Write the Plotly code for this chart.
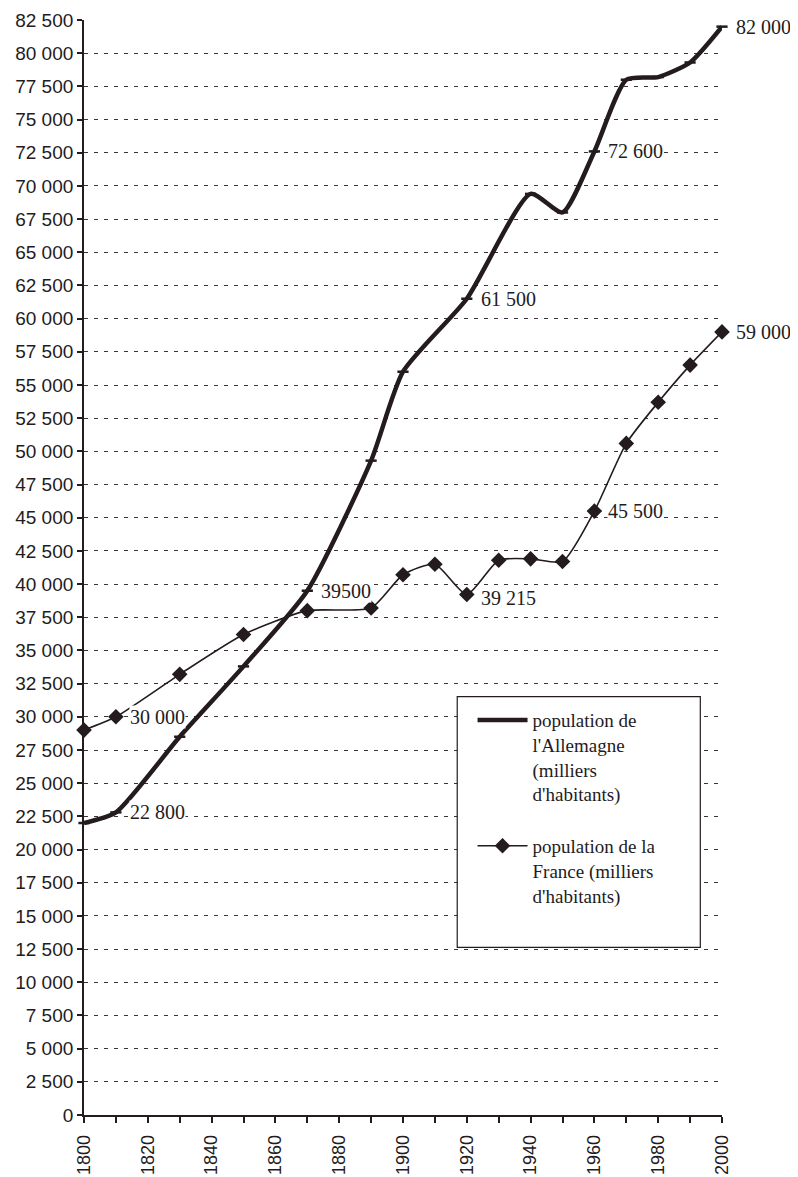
import plotly.graph_objects as go

# ---------------- data ----------------
de_years = [1800, 1810, 1830, 1850, 1870, 1890, 1900, 1920, 1940, 1950, 1960, 1970, 1980, 1990, 2000]
de_pop = [22000, 22800, 28500, 33800, 39500, 49300, 56000, 61500, 69400, 68000, 72600, 78000, 78200, 79300, 82000]

fr_years = [1800, 1810, 1830, 1850, 1870, 1890, 1900, 1910, 1920, 1930, 1940, 1950, 1960, 1970, 1980, 1990, 2000]
fr_pop = [29000, 30000, 33200, 36200, 38000, 38200, 40700, 41500, 39215, 41800, 41900, 41700, 45500, 50600, 53700, 56500, 59000]

de_label_years = [1810, 1870, 1920, 1960, 2000]
de_label_texts = ["22 800", "39500", "61 500", "72 600", "82 000"]
fr_label_years = [1810, 1920, 1960, 2000]
fr_label_texts = ["30 000", "39 215", "45 500", "59 000"]

y_tick_values = list(range(0, 82501, 2500))
y_tick_labels = [f"{v:,}".replace(",", " ") for v in y_tick_values]
x_tick_values = list(range(1800, 2001, 20))
x_tick_labels = [str(v) for v in x_tick_values]

de_name = "population de<br>l'Allemagne<br>(milliers<br>d'habitants)"
fr_name = "population de la<br>France (milliers<br>d'habitants)"

INK = "#231b1d"
SERIF = "Liberation Serif, DejaVu Serif, serif"
SANS = "Liberation Sans, Arial, sans-serif"

fig = go.Figure()

fig.add_trace(go.Scatter(
    x=fr_years, y=fr_pop, name=fr_name, mode="lines+markers",
    line=dict(color=INK, width=1.6, shape="spline", smoothing=0.6),
    marker=dict(symbol="diamond", size=12, color=INK),
    cliponaxis=False, legendgroup="fr", legendrank=2,
))
fig.add_trace(go.Scatter(
    x=de_years, y=de_pop, name=de_name, mode="lines",
    line=dict(color=INK, width=4.5, shape="spline", smoothing=0.6),
    cliponaxis=False, legendgroup="de", legendrank=1,
))
fig.add_trace(go.Scatter(
    x=de_years, y=de_pop, mode="markers", showlegend=False,
    marker=dict(symbol="line-ew", size=8, line=dict(color=INK, width=2.5)),
    cliponaxis=False, hoverinfo="skip",
))

annotations = []
for yr, txt in zip(de_label_years, de_label_texts):
    val = de_pop[de_years.index(yr)]
    annotations.append(dict(x=yr, y=val, xref="x", yref="y", text=txt, showarrow=False,
                            xanchor="left", yanchor="middle", xshift=13, yshift=0,
                            font=dict(family=SERIF, size=20, color=INK),
                            bgcolor="white", borderpad=0))
for yr, txt in zip(fr_label_years, fr_label_texts):
    val = fr_pop[fr_years.index(yr)]
    annotations.append(dict(x=yr, y=val, xref="x", yref="y", text=txt, showarrow=False,
                            xanchor="left", yanchor="middle", xshift=13,
                            yshift=-3 if txt == "39 215" else 0,
                            font=dict(family=SERIF, size=20, color=INK),
                            bgcolor="white", borderpad=0))

# the page body adds an 8px offset; the figure is sized to compensate
fig.update_layout(
    width=790, height=1169,
    margin=dict(l=76, r=76, t=12, b=62, autoexpand=False),
    paper_bgcolor="white", plot_bgcolor="white",
    showlegend=True,
    legend=dict(
        x=0.609, y=0.378, xanchor="left", yanchor="top",
        bgcolor="rgba(0,0,0,0)", borderwidth=0,
        font=dict(family=SERIF, size=19, color=INK),
        traceorder="grouped", tracegroupgap=24, valign="top",
        itemwidth=50,
    ),
    shapes=[dict(type="rect", xref="paper", yref="paper",
                 x0=0.585, x1=0.966, y0=0.153, y1=0.382,
                 line=dict(color=INK, width=1.2), fillcolor="white", layer="above")],
    annotations=annotations,
    xaxis=dict(
        range=[1800, 2000], tickvals=x_tick_values, ticktext=x_tick_labels,
        tickangle=-90, ticks="outside", ticklen=6, tickwidth=1.5, tickcolor=INK,
        minor=dict(dtick=10, tick0=1800, ticks="outside", ticklen=6, tickwidth=1.5, tickcolor=INK, showgrid=False),
        showline=True, linecolor=INK, linewidth=1.5,
        showgrid=False, zeroline=False, automargin=False,
        tickfont=dict(family=SANS, size=18, color=INK),
        ticklabelstandoff=5,
    ),
    yaxis=dict(
        range=[0, 82500], tickvals=y_tick_values, ticktext=y_tick_labels,
        ticks="outside", ticklen=5, tickwidth=1.5, tickcolor=INK,
        showline=True, linecolor=INK, linewidth=1.8,
        showgrid=True, gridcolor="#3a3436", gridwidth=1.3, griddash="4px,6px",
        zeroline=False, automargin=False,
        tickfont=dict(family=SANS, size=19, color=INK),
    ),
)

fig.write_html("out.html")
